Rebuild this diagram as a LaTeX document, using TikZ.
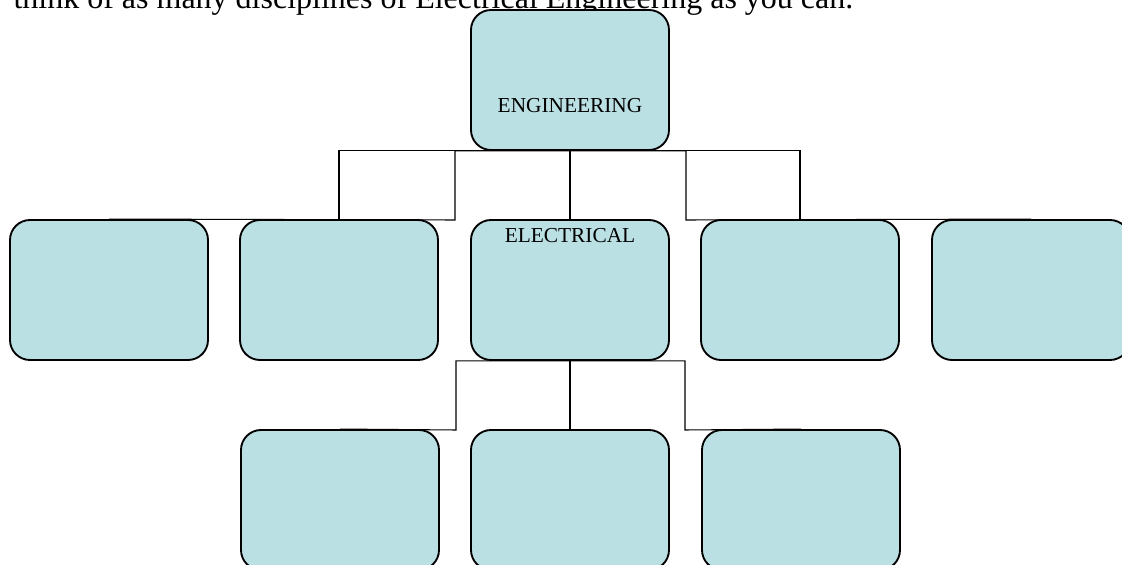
\documentclass[tikz,border=0pt]{standalone}
\usepackage{fontspec}
\setmainfont{Liberation Serif}
\usepackage{xcolor}
\usepackage{tikz}
\usetikzlibrary{backgrounds}
\definecolor{boxcyan}{RGB}{187,224,227}

\begin{document}
\begin{tikzpicture}[x=0.375pt,y=-0.375pt,
		discbox/.style={draw,line width=0.7pt,fill=boxcyan,rounded corners=7.5pt,minimum width=74.25pt,minimum height=52.5pt,inner sep=0pt},
		boxtext/.style={font=\fontsize{8}{10}\selectfont,inner sep=0pt,anchor=base},
		link/.style={line width=0.4pt}]
		\clip (0,0) rectangle (1122,565);
		\node[anchor=base west,inner sep=0pt,font=\fontsize{12}{14}\selectfont] (task) at (13,9) {think of as many disciplines of Electrical Engineering as you can.};
		% top box
		\node[discbox] (eng) at (570,80) {};
		\node[boxtext] (engtxt) at (570,113) {ENGINEERING};
		% second row
		\node[discbox] (d1) at (109,290) {};
		\node[discbox] (d2) at (339,290) {};
		\node[discbox] (elec) at (570,290) {};
		\node[discbox] (d4) at (800,290) {};
		\node[discbox] (d5) at (1031,290) {};
		\node[boxtext] (electxt) at (570,243) {ELECTRICAL};
		% third row
		\node[discbox] (s1) at (340,500) {};
		\node[discbox] (s2) at (570,500) {};
		\node[discbox] (s3) at (801,500) {};
		% bends
		\coordinate (k1) at (455,220);
		\coordinate (k5) at (686,220);
		\coordinate (k6) at (456,430);
		\coordinate (k8) at (685,430);
		\begin{scope}[on background layer]
			\draw[link] (eng.south) -| (k1) -- (d1.north);
			\draw[link] (eng.south) -| (d2.north);
			\draw[link] (eng.south) -- (elec.north);
			\draw[link] (eng.south) -| (d4.north);
			\draw[link] (eng.south) -| (k5) -- (d5.north);
			\draw[link] (elec.south) -| (k6) -- (s1.north);
			\draw[link] (elec.south) -- (s2.north);
			\draw[link] (elec.south) -| (k8) -- (s3.north);
		\end{scope}
	\end{tikzpicture}
\end{document}
